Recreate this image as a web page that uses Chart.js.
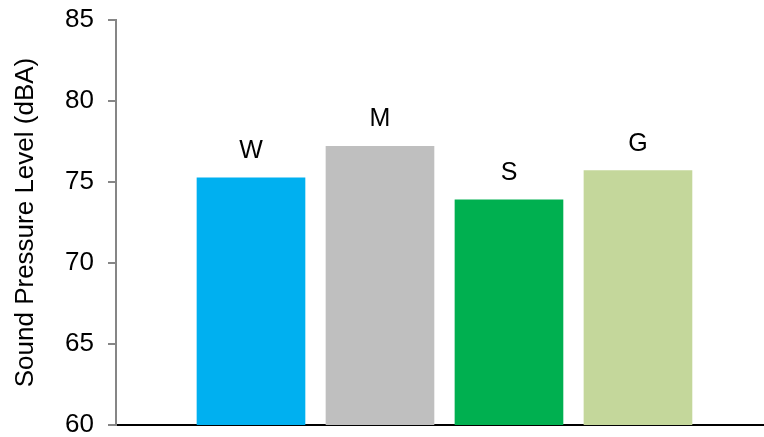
<!DOCTYPE html>
<html>
<head>
<meta charset="utf-8">
<script src="https://cdn.jsdelivr.net/npm/chart.js@4"></script>
<style>
  html, body { margin: 0; padding: 0; background: #fff; }
  #wrap { width: 764px; height: 437px; }
</style>
</head>
<body>
<div id="wrap"><canvas id="c" width="764" height="437"></canvas></div>
<script>
// Surface types and their measured sound pressure levels
const categories = ['W', 'M', 'S', 'G'];
const positions = [1, 2, 3, 4];
const levels = [75.25, 77.2, 73.9, 75.7];
const barColors = ['#00B0F0', '#BFBFBF', '#00B050', '#C4D79B'];
const yTicks = [60, 65, 70, 75, 80, 85];

const FONT = "'Liberation Sans', Arial, sans-serif";

// Writes each category name just above its bar
const barNames = {
  id: 'barNames',
  afterDatasetsDraw(chart) {
    const ctx = chart.ctx;
    const meta = chart.getDatasetMeta(0);
    ctx.save();
    ctx.font = '25px ' + FONT;
    ctx.fillStyle = '#000';
    ctx.textAlign = 'center';
    ctx.textBaseline = 'alphabetic';
    meta.data.forEach((bar, i) => {
      ctx.fillText(categories[i], bar.x, bar.y - 20);
    });
    ctx.restore();
  }
};

new Chart(document.getElementById('c'), {
  type: 'bar',
  data: {
    datasets: [{
      data: positions.map((p, i) => ({ x: p, y: levels[i] })),
      backgroundColor: barColors,
      borderWidth: 0,
      barThickness: 108
    }]
  },
  options: {
    responsive: false,
    animation: false,
    layout: { padding: { top: 20, right: 0, bottom: 11, left: 0 } },
    plugins: { legend: { display: false }, tooltip: { enabled: false } },
    scales: {
      x: {
        type: 'linear',
        offset: false,
        min: -0.0465,
        max: 4.977,
        afterFit(scale) { scale.height = 1; },
        ticks: { display: false },
        grid: { display: false, drawTicks: false, offset: false },
        border: { display: true, color: '#000', width: 2 }
      },
      y: {
        min: 60,
        max: 85,
        afterBuildTicks(scale) { scale.ticks = yTicks.map(v => ({ value: v })); },
        afterFit(scale) {
          scale.width = 116;
          scale.paddingTop = 0;
          scale.paddingBottom = 0;
        },
        ticks: {
          font: { family: FONT, size: 26 },
          color: '#000',
          padding: 14
        },
        grid: {
          drawOnChartArea: false,
          drawTicks: true,
          tickLength: 8,
          color: '#868686',
          lineWidth: 2
        },
        border: { display: true, color: '#868686', width: 2 },
        title: {
          display: true,
          text: 'Sound Pressure Level (dBA)',
          font: { family: FONT, size: 26 },
          color: '#000',
          padding: { top: 10, bottom: 0 }
        }
      }
    }
  },
  plugins: [barNames]
});
</script>
</body>
</html>
